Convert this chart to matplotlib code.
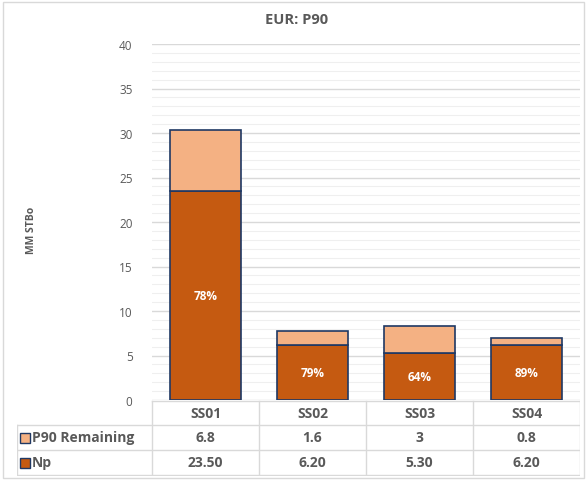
import matplotlib
import matplotlib.pyplot as plt
from matplotlib.patches import Rectangle
from matplotlib.ticker import MultipleLocator

matplotlib.use("agg")

plt.rcParams["font.family"] = ["Open Sans", "DejaVu Sans"]

# data
wells = ["SS01", "SS02", "SS03", "SS04"]
np_vals = [23.50, 6.20, 5.30, 6.20]
p90_remaining = [6.8, 1.6, 3, 0.8]
np_labels = ["23.50", "6.20", "5.30", "6.20"]
rem_labels = ["6.8", "1.6", "3", "0.8"]
series_names = ["P90 Remaining", "Np"]

np_color = "#C55A11"
rem_color = "#F4B183"
edge_color = "#1F3864"
text_color = "#595959"
grid_color = "#D9D9D9"

W, H = 587, 481
fig = plt.figure(figsize=(W / 100, H / 100), dpi=100)


def px_axes(x0, y0, x1, y1):
    # axes from pixel box (top-left origin)
    return fig.add_axes([x0 / W, 1 - y1 / H, (x1 - x0) / W, (y1 - y0) / H])


# chart border
fig.patches.append(Rectangle((3 / W, 1 - 479 / H), 581 / W, 476 / H,
                             transform=fig.transFigure, fill=False,
                             edgecolor=grid_color, linewidth=1))

ax = px_axes(152, 45, 580, 401)
xs = range(len(wells))
ax.bar(xs, np_vals, width=0.66, color=np_color, edgecolor=edge_color,
       linewidth=1.2, zorder=3)
ax.bar(xs, p90_remaining, width=0.66, bottom=np_vals, color=rem_color,
       edgecolor=edge_color, linewidth=1.2, zorder=3)

# recovery percentage labels
for x, n, r in zip(xs, np_vals, p90_remaining):
    ax.text(x, n / 2, "{:.0f}%".format(100 * n / (n + r)), ha="center",
            va="center", color="white", fontsize=8.5, fontweight="bold", zorder=4)

ax.set_xlim(-0.5, len(wells) - 0.5)
ax.set_ylim(0, 40)
ax.yaxis.set_major_locator(MultipleLocator(5))
ax.yaxis.set_minor_locator(MultipleLocator(1))
ax.grid(axis="y", which="major", color=grid_color, linewidth=1, zorder=0)
ax.grid(axis="y", which="minor", color="#EFEFEF", linewidth=0.8, zorder=0)
ax.set_xticks([])
for s in ax.spines.values():
    s.set_visible(False)
ax.tick_params(axis="y", which="both", length=0, labelsize=8.5,
               labelcolor=text_color, pad=14)

fig.text(32 / W, 1 - 230 / H, "MM STBo", rotation=90, ha="center",
         va="center", fontsize=7.5, fontweight="bold", color=text_color)
fig.text(297 / W, 1 - 20 / H, "EUR: P90", ha="center", va="center",
         fontsize=10.5, fontweight="bold", color=text_color)

# data table below the plot
tab = px_axes(17, 401, 580, 477)
tab.set_xlim(17, 580)
tab.set_ylim(477, 401)
tab.axis("off")
col_edges = [152 + i * 107 for i in range(len(wells) + 1)]
row_edges = [402, 426, 451, 476]
lw = 1
for xe in col_edges:
    tab.plot([xe, xe], [row_edges[0], row_edges[-1]], color=grid_color, lw=lw)
tab.plot([17, 17], [row_edges[1], row_edges[-1]], color=grid_color, lw=lw)
tab.plot([152, 580], [row_edges[0], row_edges[0]], color=grid_color, lw=lw)
for ye in row_edges[1:]:
    tab.plot([17, 580], [ye, ye], color=grid_color, lw=lw)

centers = [(col_edges[i] + col_edges[i + 1]) / 2 for i in range(len(wells))]
row_mid = [(row_edges[i] + row_edges[i + 1]) / 2 for i in range(3)]
for c, w in zip(centers, wells):
    tab.text(c, row_mid[0], w, ha="center", va="center", fontsize=10,
             fontweight="bold", color=text_color)
for row, labels, name, col in zip(row_mid[1:], [rem_labels, np_labels],
                                  series_names, [rem_color, np_color]):
    tab.add_patch(Rectangle((20, row - 5), 10, 10, facecolor=col,
                            edgecolor=edge_color, linewidth=1))
    tab.text(32, row, name, ha="left", va="center", fontsize=10,
             fontweight="bold", color=text_color)
    for c, lab in zip(centers, labels):
        tab.text(c, row, lab, ha="center", va="center", fontsize=10,
                 fontweight="bold", color=text_color)

plt.savefig("out.png", dpi=100)
